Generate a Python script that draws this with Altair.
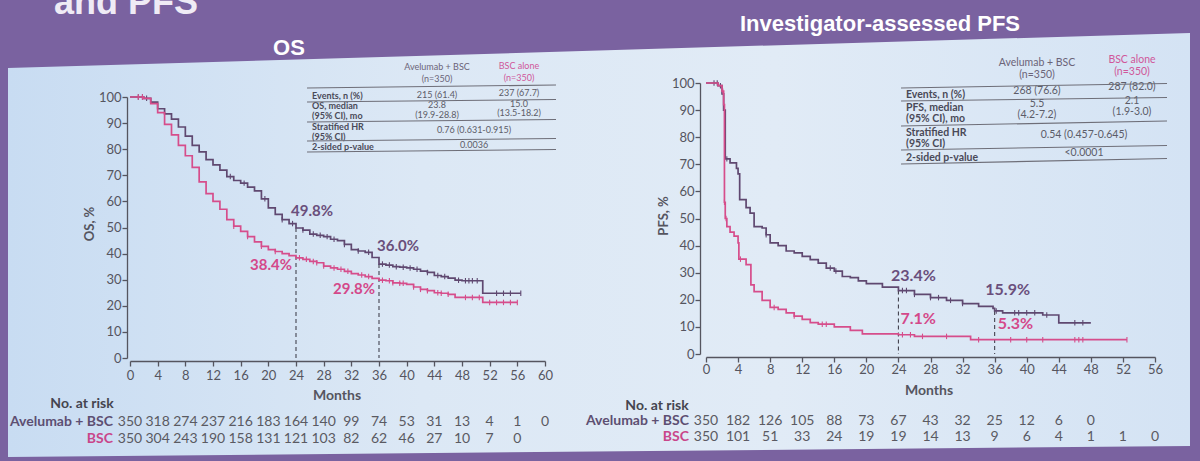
import altair as alt
import pandas as pd

# ---------------- Overall survival, Kaplan-Meier estimate (%) ----------------
os_ave_month = [0, 1, 2, 3, 4, 5, 6, 7, 8, 9, 10, 11, 12, 13, 14, 15, 16, 17, 18, 19,
                20, 21, 22, 23, 24, 25, 26, 27, 28, 29, 30, 31, 32, 33, 34, 35, 36, 37, 38, 39,
                40, 41, 42, 43, 44, 45, 46, 47, 48, 51, 56.5]
os_ave_surv = [100, 100, 99.5, 98, 95.5, 93.5, 91.5, 88.5, 85, 81.5,
               79, 76, 74, 72, 69.5, 68, 67, 65.5, 64, 61,
               57.5, 55, 53, 51.5, 49.8, 49, 47.5, 47, 46.5, 45.5,
               45, 43.5, 41.5, 41, 40.5, 38.5, 36.0, 35.6, 35, 34.8,
               34.5, 34, 33.3, 32.8, 31.6, 31.2, 30.6, 29.8, 29.6, 24.8, 24.8]

os_bsc_month = [0, 1, 2, 3, 4, 5, 6, 7, 8, 9, 10, 11, 12, 13, 14, 15, 16, 17, 18, 19,
                20, 21, 22, 23, 24, 25, 26, 27, 28, 29, 30, 31, 32, 33, 34, 35, 36, 37, 38, 39,
                40, 41, 42, 43, 44, 45, 46, 47, 51, 56]
os_bsc_surv = [100, 100, 99.5, 97.5, 94, 89.5, 85.5, 81.5, 77.5, 73,
               67.5, 63, 60, 57, 53, 50.5, 48.5, 46.5, 44.5, 42.8,
               41.5, 40.8, 40, 39.2, 38.4, 37.8, 37, 36.5, 35.2, 34.5,
               34, 33.2, 32.3, 31.8, 31.2, 30.5, 29.8, 29.6, 28.8, 28.6,
               28.2, 27.2, 26.3, 25.8, 25, 24.8, 24.4, 23.2, 21.3, 21.3]

os_ave_censor = [1.2, 1.8, 2.4, 14.5, 16.5, 19.5, 22, 23.5, 25, 26.5, 27.5, 28.5, 29.5, 31, 33,
                 34.5, 36.5, 37.5, 38.5, 39.5, 40.5, 41.5, 43, 44.5, 45.5, 47.5, 48.5, 49, 49.5,
                 50.2, 53, 54, 55, 56.5]
os_bsc_censor = [1.2, 1.8, 15, 17, 19, 21, 24.5, 25.5, 26.5, 27, 28, 29.5, 30.5, 31.5, 33.5, 34.5,
                 36.5, 37.5, 38, 39, 39.5, 41, 42, 43, 44.5, 45, 46, 48.5, 49.5, 50.5, 52, 53, 54,
                 55, 56]

# ---------------- Investigator-assessed PFS, Kaplan-Meier estimate (%) ----------------
pfs_ave_month = [0, 1, 1.5, 2, 2.2, 2.4, 3, 3.8, 4, 4.2, 5, 5.5, 6, 7, 7.5, 8, 9, 10, 11, 12,
                 13, 14, 15, 16, 17, 18, 19, 20, 22, 24, 26, 28, 30, 32, 34, 35.8, 36, 37, 42,
                 44, 48]
pfs_ave_surv = [100, 100, 99, 96, 90, 72, 70.5, 68.5, 66.5, 57, 54, 52, 47, 46.5, 44, 41, 40, 38,
                37.3, 36, 34.8, 33.5, 31.7, 30.6, 28.6, 28.2, 27, 26, 24.7, 23.4, 22, 20.8, 19.8,
                18.6, 17.6, 16.8, 15.9, 15.2, 14.4, 11.5, 11.5]

pfs_bsc_month = [0, 1, 1.5, 2, 2.2, 2.3, 2.4, 2.6, 3, 3.5, 4, 4.1, 5, 5.6, 6, 7, 8, 9, 10, 11,
                 12, 13, 14, 16, 18, 19.5, 24, 26, 33, 36, 52.5]
pfs_bsc_surv = [100, 100, 99, 97, 92, 56, 50, 47, 45, 43.5, 41, 35, 33, 25.5, 23, 19.8, 17.2, 16.5,
                15.2, 14, 12.8, 11.6, 11, 10, 8.7, 7.4, 7.1, 6.5, 5.3, 5.3, 5.3]

pfs_ave_censor = [1.0, 1.4, 1.8, 2.6, 7.5, 15.5, 16.2, 24.5, 25, 26, 28, 29, 30.5, 32, 36.2, 38.5,
                  39, 40, 41, 42.5, 46, 47]
pfs_bsc_censor = [2.1, 2.3, 2.5, 4.3, 8.5, 11, 14.5, 15, 24.5, 25.5, 27, 30, 34, 38, 40, 42, 46,
                  46.5, 47, 52.5]

# ---------------- Landmark rates at 24 and 36 months ----------------
landmark_months = [24, 36]
os_ave_landmark = [49.8, 36.0]
os_bsc_landmark = [38.4, 29.8]
pfs_ave_landmark = [23.4, 15.9]
pfs_bsc_landmark = [7.1, 5.3]

# ---------------- Number at risk, every 4 months ----------------
os_risk_ave = [350, 318, 274, 237, 216, 183, 164, 140, 99, 74, 53, 31, 13, 4, 1, 0]
os_risk_bsc = [350, 304, 243, 190, 158, 131, 121, 103, 82, 62, 46, 27, 10, 7, 0]
pfs_risk_ave = [350, 182, 126, 105, 88, 73, 67, 43, 32, 25, 12, 6, 0]
pfs_risk_bsc = [350, 101, 51, 33, 24, 19, 19, 14, 13, 9, 6, 4, 1, 1, 0]

# ---------------- Summary tables ----------------
arm_header = ["Avelumab + BSC", "(n=350)"]
ctrl_header = ["BSC alone", "(n=350)"]
os_row_labels = ["Events, n (%)", "OS, median", "(95% CI), mo", "Stratified HR", "(95% CI)",
                 "2-sided p-value"]
pfs_row_labels = ["Events, n (%)", "PFS, median", "(95% CI), mo", "Stratified HR", "(95% CI)",
                  "2-sided p-value"]
os_events = ["215 (61.4)", "237 (67.7)"]
os_median = ["23.8", "(19.9-28.8)", "15.0", "(13.5-18.2)"]
os_hr = "0.76 (0.631-0.915)"
os_p = "0.0036"
pfs_events = ["268 (76.6)", "287 (82.0)"]
pfs_median = ["5.5", "(4.2-7.2)", "2.1", "(1.9-3.0)"]
pfs_hr = "0.54 (0.457-0.645)"
pfs_p = "<0.0001"

# ---------------- Style ----------------
PURPLE = "#7a62a0"
AVE = "#5f4870"
BSC = "#d64d8b"
AVE_TXT = "#6a4f7c"
BSC_TXT = "#d4488a"
GREY = "#55555f"
FONT = "Lato"
TITLE_FONT = "Liberation Sans"


def step_value(months, values, t):
    v = values[0]
    for m, s in zip(months, values):
        if m <= t:
            v = s
        else:
            break
    return v


def curve_frame(months, values):
    return pd.DataFrame({"month": months, "pct": values})


def censor_frame(months, values, times):
    return pd.DataFrame({"month": times, "pct": [step_value(months, values, t) for t in times]})


def y_axis(x_pos):
    return alt.Axis(orient="left", offset=-x_pos, values=list(range(0, 101, 10)), title=None,
                    grid=False, domainColor=GREY, tickColor=GREY, labelColor=GREY,
                    labelFont=FONT, labelFontSize=13, tickSize=5, labelPadding=1,
                    domainWidth=1.3, tickWidth=1.3, zindex=1, labelOverlap=False)


def x_axis(y_pos, last, pad):
    return alt.Axis(orient="bottom", offset=y_pos - 461, values=list(range(0, last + 1, 4)),
                    title=None, grid=False, domainColor=GREY, tickColor=GREY, labelColor=GREY,
                    labelFont=FONT, labelFontSize=13, tickSize=5, labelPadding=pad,
                    domainWidth=1.3, tickWidth=1.3, zindex=1, labelFlush=False,
                    labelOverlap=False)


def km_panel(xs, ys, xax, yax, ave, bsc, ave_cens, bsc_cens, ave_lm, bsc_lm, label_style,
             risk_ave, risk_bsc, risk_y, lab_size):
    X = alt.X("month:Q", scale=xs, axis=xax)
    Y = alt.Y("pct:Q", scale=ys, axis=yax)
    layers = []
    drops = pd.DataFrame({"month": landmark_months, "pct": ave_lm})
    layers.append(alt.Chart(drops).mark_rule(color="#444450", strokeWidth=1.1, strokeDash=[4, 3])
                  .encode(x=X, y=Y, y2=alt.datum(0)))
    for (m, v), cens, col in [(ave, ave_cens, AVE), (bsc, bsc_cens, BSC)]:
        layers.append(alt.Chart(curve_frame(m, v))
                      .mark_line(interpolate="step-after", color=col, strokeWidth=1.7)
                      .encode(x=X, y=Y))
        layers.append(alt.Chart(censor_frame(m, v, cens))
                      .mark_point(shape="M0,-1L0,1", size=30, color=col, strokeWidth=1.1,
                                  filled=False, opacity=1)
                      .encode(x=X, y=Y))
    for vals, col, styles in [(ave_lm, AVE_TXT, label_style[0]), (bsc_lm, BSC_TXT, label_style[1])]:
        for mo, v, (align, dx, dy) in zip(landmark_months, vals, styles):
            df = pd.DataFrame({"month": [mo], "pct": [v], "label": [f"{v:.1f}%"]})
            layers.append(alt.Chart(df).mark_text(align=align, dx=dx, dy=dy, font=FONT,
                                                  fontSize=lab_size, fontWeight="bold",
                                                  color=col)
                          .encode(x=X, y=Y, text="label:N"))
    for counts, yv in [(risk_ave, risk_y[0]), (risk_bsc, risk_y[1])]:
        df = pd.DataFrame({"month": [4 * i for i in range(len(counts))], "n": counts})
        layers.append(alt.Chart(df).mark_text(font=FONT, fontSize=14, color="#5a5a62")
                      .encode(x=X, y=alt.value(yv), text="n:Q"))
    return alt.layer(*layers)


os_xs = alt.Scale(domain=[0, 60], range=[130, 545], nice=False, zero=False)
os_ys = alt.Scale(domain=[0, 100], range=[358, 97], nice=False)
pfs_xs = alt.Scale(domain=[0, 56], range=[706, 1155], nice=False, zero=False)
pfs_ys = alt.Scale(domain=[0, 100], range=[354, 83], nice=False)

os_panel = km_panel(os_xs, os_ys, x_axis(361, 60, 3), y_axis(127),
                    (os_ave_month, os_ave_surv), (os_bsc_month, os_bsc_surv),
                    os_ave_censor, os_bsc_censor, os_ave_landmark, os_bsc_landmark,
                    [[("center", 16, -17), ("center", 19, -18)],
                     [("right", -4, 7), ("right", -4, 9)]],
                    os_risk_ave, os_risk_bsc, (422, 439), 15)

pfs_panel = km_panel(pfs_xs, pfs_ys, x_axis(357, 56, 1), y_axis(700),
                     (pfs_ave_month, pfs_ave_surv), (pfs_bsc_month, pfs_bsc_surv),
                     pfs_ave_censor, pfs_bsc_censor, pfs_ave_landmark, pfs_bsc_landmark,
                     [[("center", 15, -15), ("center", 13, -21)],
                      [("left", 2, -16), ("left", 3, -16)]],
                     pfs_risk_ave, pfs_risk_bsc, (421, 437), 16)


# ---------------- Slide backdrop and free text ----------------
def px(field):
    return alt.X(field, type="quantitative", scale=None, axis=None)


def py(field):
    return alt.Y(field, type="quantitative", scale=None, axis=None)


panel = alt.Chart(pd.DataFrame({"x": [8, 1190], "top": [68, 33], "bot": [457, 446]})).mark_area(
    color=alt.Gradient(gradient="linear", x1=0, x2=1, y1=0, y2=0,
                       stops=[alt.GradientStop(color="#c8dcf2", offset=0),
                              alt.GradientStop(color="#dce8f5", offset=0.35),
                              alt.GradientStop(color="#e1ebf6", offset=0.65),
                              alt.GradientStop(color="#d4e3f4", offset=1)])
).encode(x=px("x"), y=py("top"), y2="bot:Q")


def text_block(rows, baseline="middle", **mark):
    df = pd.DataFrame(rows, columns=["t", "x", "y"])
    return alt.Chart(df).mark_text(baseline=baseline, **mark).encode(
        x=px("x"), y=py("y"), text="t:N")


free_text = [
    # slide heading, mostly above the visible area
    text_block([("and PFS", 54, 14)], baseline="alphabetic", align="left", font=TITLE_FONT,
               fontSize=36, fontWeight="bold", color="#efebf5"),
    text_block([("OS", 289, 48)], align="center", font=TITLE_FONT, fontSize=22,
               fontWeight="bold", color="#ffffff"),
    text_block([("Investigator-assessed PFS", 880, 24)], align="center", font=TITLE_FONT,
               fontSize=22, fontWeight="bold", color="#ffffff"),
    text_block([("OS, %", 90, 224)], align="center", font=FONT, fontSize=13,
               fontWeight="bold", color=GREY, angle=270),
    text_block([("PFS, %", 664, 216)], align="center", font=FONT, fontSize=13,
               fontWeight="bold", color=GREY, angle=270),
    text_block([("Months", 337, 396), ("Months", 929, 391)], align="center", font=FONT,
               fontSize=14, fontWeight="bold", color=GREY),
    text_block([("No. at risk", 82, 404), ("No. at risk", 657, 406)], align="center", font=FONT,
               fontSize=14, fontWeight="bold", color="#45454f"),
    text_block([("Avelumab + BSC", 113, 422), ("Avelumab + BSC", 689, 421)], align="right",
               font=FONT, fontSize=14, fontWeight="bold", color="#5d4f72"),
    text_block([("BSC", 113, 439), ("BSC", 689, 437)], align="right", font=FONT, fontSize=14,
               fontWeight="bold", color="#c9468a"),
]


def summary_table(left, c1, c2, mid, x_end, hdr_y, rule_y, label_y, labels, events, median,
                  hr, p, val_y, size):
    parts = []
    parts.append(text_block([(arm_header[0], c1, hdr_y[0]), (arm_header[1], c1, hdr_y[1])],
                            align="center", font=FONT, fontSize=size, color="#6b6478"))
    parts.append(text_block([(ctrl_header[0], c2, hdr_y[2]), (ctrl_header[1], c2, hdr_y[3])],
                            align="center", font=FONT, fontSize=size, color="#d0579a"))
    parts.append(text_block(list(zip(labels, [left] * len(labels), label_y)), align="left",
                            font=FONT, fontSize=size, fontWeight="bold", color="#4a4a58"))
    vals = [(events[0], c1, val_y[0]), (events[1], c2, val_y[1]),
            (median[0], c1, val_y[2]), (median[1], c1, val_y[3]),
            (median[2], c2, val_y[4]), (median[3], c2, val_y[5]),
            (hr, mid, val_y[6]), (p, mid, val_y[7])]
    parts.append(text_block(vals, align="center", font=FONT, fontSize=size, color="#5c5c68"))
    rules = pd.DataFrame({"x": [left - 5] * len(rule_y), "x2": [x_end] * len(rule_y),
                          "y": [a for a, b in rule_y], "y2": [b for a, b in rule_y]})
    parts.append(alt.Chart(rules).mark_rule(color="#6e6e78", strokeWidth=1.1)
                 .encode(x=px("x"), x2="x2:Q", y=py("y"), y2="y2:Q"))
    return parts


os_table = summary_table(312, 437, 519, 474, 556, (67, 78.5, 66, 77.5),
                         [(88, 85), (102, 99.5), (122, 119.5), (141, 138.5), (152, 149.5)],
                         [95.5, 106, 115.5, 127, 136.5, 146.5], os_row_labels, os_events,
                         os_median, os_hr, os_p, [94.5, 93, 105, 114.5, 103.5, 113, 130, 145],
                         9)
pfs_table = summary_table(906, 1037, 1132, 1084, 1167, (63, 75, 60, 71.5),
                          [(88, 83.5), (101, 97.5), (126, 121), (150, 145.5), (164, 158.5)],
                          [95, 107.5, 118.5, 133, 144, 157.5], pfs_row_labels, pfs_events,
                          pfs_median, pfs_hr, pfs_p,
                          [91, 87, 104, 115, 101, 112, 135, 153], 10.5)

chart = alt.layer(panel, *free_text, *os_table, *pfs_table, os_panel, pfs_panel).resolve_scale(
    x="independent", y="independent"
).properties(
    width=1200, height=461, padding=0, background=PURPLE,
    autosize=alt.AutoSizeParams(type="none"),
).configure_view(stroke=None)

chart.save("out.html", embed_options={"renderer": "svg", "actions": False})
